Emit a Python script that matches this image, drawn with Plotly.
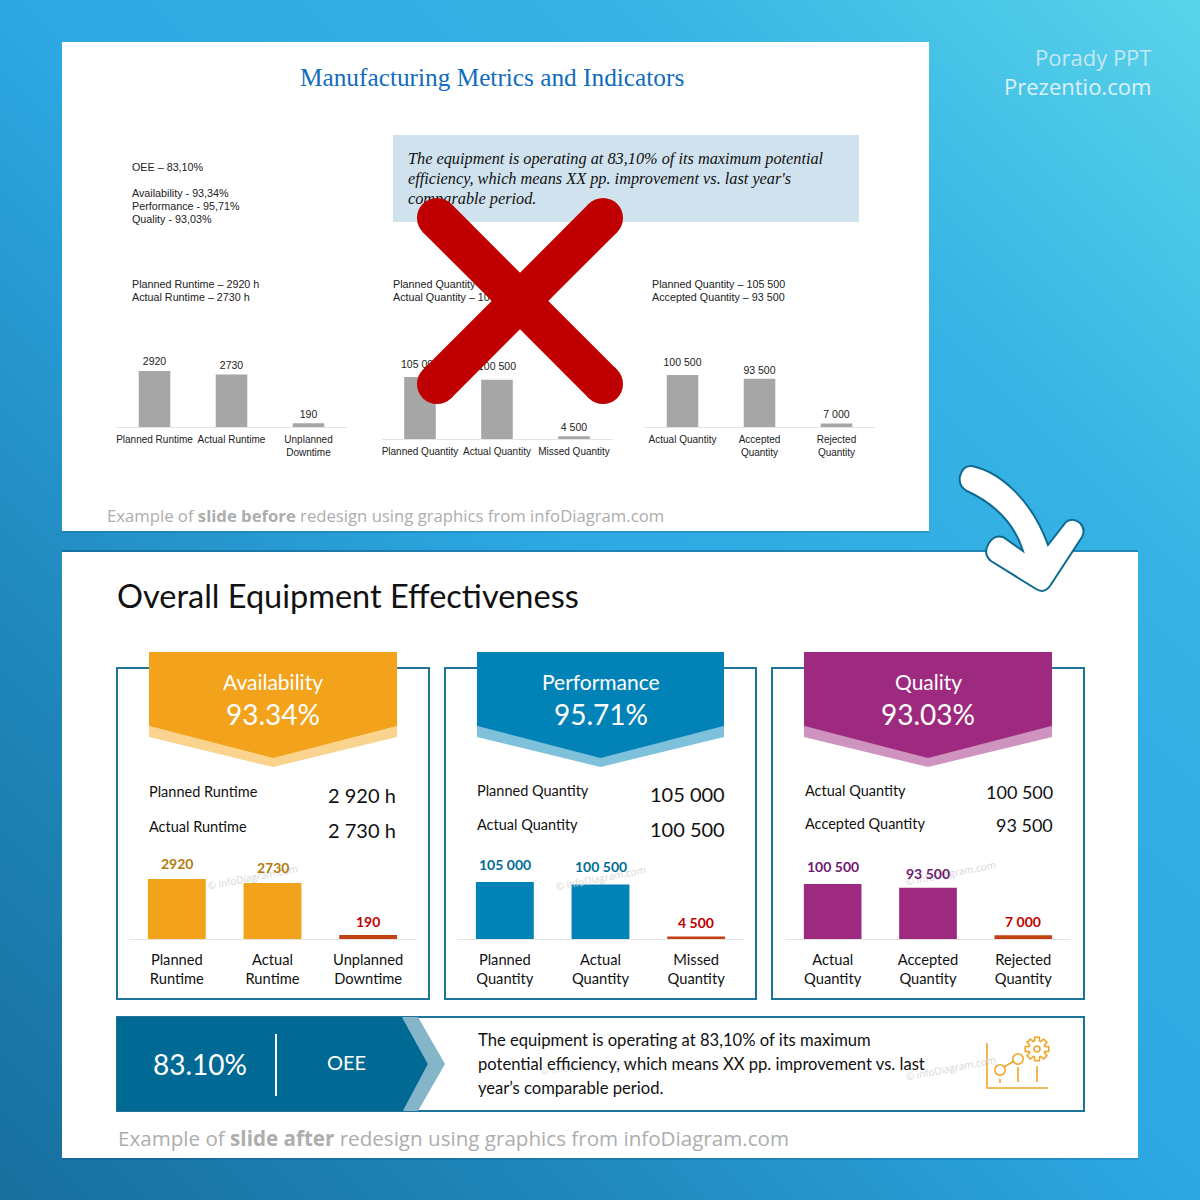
import base64
import numpy as np
import plotly.graph_objects as go

# ---- before slide data ----
before_runtime_labels = ["Planned Runtime", "Actual Runtime", "Unplanned<br>Downtime"]
before_runtime_values = [2920, 2730, 190]
before_runtime_text = ["2920", "2730", "190"]
before_perf_labels = ["Planned Quantity", "Actual Quantity", "Missed Quantity"]
before_perf_values = [105000, 100500, 4500]
before_perf_text = ["105 000", "100 500", "4 500"]
before_quality_labels = ["Actual Quantity", "Accepted<br>Quantity", "Rejected<br>Quantity"]
before_quality_values = [100500, 93500, 7000]
before_quality_text = ["100 500", "93 500", "7 000"]

# ---- after slide data ----
after_runtime_labels = ["Planned<br>Runtime", "Actual<br>Runtime", "Unplanned<br>Downtime"]
after_perf_labels = ["Planned<br>Quantity", "Actual<br>Quantity", "Missed<br>Quantity"]
after_quality_labels = ["Actual<br>Quantity", "Accepted<br>Quantity", "Rejected<br>Quantity"]
kpi_names = ["Availability", "Performance", "Quality"]
kpi_values = ["93.34%", "95.71%", "93.03%"]

CAL = "Lato"
ARIAL = "Liberation Sans"
SERIF = "Liberation Serif"
GREY_TXT = "#adadad"
TEAL = "#1f7597"
DARK = "#006a94"


def px(x):
    return x / 1200


def py(y):
    return 1 - y / 1200


fig = go.Figure()
shapes, notes = [], []


def rect(x0, y0, x1, y1, fill, line=None, width=0, layer="below"):
    shapes.append(dict(type="rect", xref="paper", yref="paper", x0=px(x0), x1=px(x1),
                       y0=py(y0), y1=py(y1), fillcolor=fill, layer=layer,
                       line=dict(color=line or "rgba(0,0,0,0)", width=width)))


def poly(points, fill, layer="below"):
    d = "M " + " L ".join(f"{px(a):.5f},{py(b):.5f}" for a, b in points) + " Z"
    shapes.append(dict(type="path", xref="paper", yref="paper", path=d, fillcolor=fill,
                       layer=layer, line=dict(width=0)))


def stroke(points, color, width, closed=False, layer="below"):
    d = "M " + " L ".join(f"{px(a):.5f},{py(b):.5f}" for a, b in points) + (" Z" if closed else "")
    shapes.append(dict(type="path", xref="paper", yref="paper", path=d,
                       line=dict(color=color, width=width), layer=layer))


def circle(cx, cy, r, fill, line=None, width=0, layer="below"):
    shapes.append(dict(type="circle", xref="paper", yref="paper", x0=px(cx - r), x1=px(cx + r),
                       y0=py(cy + r), y1=py(cy - r), fillcolor=fill, layer=layer,
                       line=dict(color=line or "rgba(0,0,0,0)", width=width)))


def note(x, y, text, size, color="#000000", family=CAL, anchor="left", angle=0):
    # Annotation boxes carry a small inner padding, offset here
    dx = {"left": -2, "right": 2, "center": 0}[anchor]
    notes.append(dict(xref="paper", yref="paper", x=px(x + dx), y=py(y - 1), text=text, showarrow=False,
                      xanchor=anchor, yanchor="middle", textangle=angle,
                      font=dict(size=size, color=color, family=family)))


def low_text(x, y, text, size, color="#000000", family=ARIAL):
    # Text kept in the trace layer so the cross drawn above can cover it
    fig.add_trace(go.Scatter(x=[x], y=[y + 1], text=[text], mode="text", textposition="middle right",
                             textfont=dict(size=size, color=color, family=family),
                             xaxis="x", yaxis="y", showlegend=False, hoverinfo="skip",
                             cliponaxis=False))


# ---- page background ----
gradient_svg = (
    '<svg xmlns="http://www.w3.org/2000/svg" width="1200" height="1200" preserveAspectRatio="none">'
    '<defs><linearGradient id="g" x1="0" y1="1" x2="1" y2="0">'
    '<stop offset="0" stop-color="#176f9e"/><stop offset="0.25" stop-color="#2088bc"/>'
    '<stop offset="0.5" stop-color="#2da8e2"/><stop offset="0.75" stop-color="#36b2e4"/>'
    '<stop offset="1" stop-color="#58d4ea"/></linearGradient></defs>'
    '<rect width="1200" height="1200" fill="url(#g)"/></svg>'
)
bg_uri = "data:image/svg+xml;base64," + base64.b64encode(gradient_svg.encode()).decode()

# ---- slide panels ----
rect(62, 531, 929, 533, "rgba(0,60,100,0.18)")
rect(62, 550, 1138, 552, "rgba(0,60,100,0.35)")
rect(62, 1158, 1138, 1160, "rgba(0,60,100,0.18)")
rect(62, 42, 929, 531, "#ffffff")
rect(62, 552, 1138, 1158, "#ffffff")

note(1151, 58, "Porady PPT", 22, "#c4e7f3", "Open Sans", "right")
note(1151, 87, "Prezentio.com", 22, "#dff1f8", "Open Sans", "right")

# ---- before slide text ----
note(492, 78, "Manufacturing Metrics and Indicators", 25.3, "#126cbd", SERIF, "center")
rect(393, 135, 859, 222, "#cfe2ee")
for y, line in zip([159, 179, 199], [
    "The equipment is operating at 83,10% of its maximum potential",
    "efficiency, which means XX pp. improvement vs. last year's",
    "comparable period.",
]):
    low_text(408, y, f"<i>{line}</i>", 16.3, "#111111", SERIF)
for y, line in zip([167, 193, 206, 219],
                   ["OEE – 83,10%", "Availability - 93,34%", "Performance - 95,71%", "Quality - 93,03%"]):
    low_text(132, y, line, 10.75, "#222222")
low_text(132, 284, "Planned Runtime – 2920 h", 10.75, "#222222")
low_text(132, 297, "Actual Runtime – 2730 h", 10.75, "#222222")
low_text(393, 284, "Planned Quantity – 105 000", 10.75, "#222222")
low_text(393, 297, "Actual Quantity – 100 500", 10.75, "#222222")
low_text(652, 284, "Planned Quantity – 105 500", 10.75, "#222222")
low_text(652, 297, "Accepted Quantity – 93 500", 10.75, "#222222")
note(107, 516, "Example of <b>slide before</b> redesign using graphics from infoDiagram.com",
     16.7, GREY_TXT, "Open Sans")

# ---- after slide text and frames ----
note(117, 596, "Overall Equipment Effectiveness", 32.5, "#111111")
note(118, 1139, "Example of <b>slide after</b> redesign using graphics from infoDiagram.com",
     20.6, GREY_TXT, "Open Sans")

frames = [(117, 429), (445, 756), (772, 1084)]
ribbons = [(149, 397, "#f2a31b", "#fad48e"), (477, 724, "#0283b7", "#7fc1db"), (804, 1052, "#9e2a80", "#ce93bf")]
for (fx0, fx1), (rx0, rx1, main, light), name, val in zip(frames, ribbons, kpi_names, kpi_values):
    rect(fx0, 668, fx1, 999, "#ffffff", TEAL, 2)
    mid = (rx0 + rx1) / 2
    poly([(rx0, 726), (mid, 757), (rx1, 726), (rx1, 737), (mid, 767), (rx0, 737)], light)
    poly([(rx0, 652), (rx1, 652), (rx1, 726), (mid, 758), (rx0, 726)], main)
    note(mid, 682, name, 21, "#ffffff", CAL, "center")
    note(mid, 715, val, 28, "#ffffff", CAL, "center")

# Metric rows beside each chart: left x, right x, label y, value y, value size
rows = [
    (149, 396, [792, 827], [796, 831], 20, ["Planned Runtime", "Actual Runtime"], ["2 920 h", "2 730 h"]),
    (477, 725, [791, 825], [795, 830], 20, ["Planned Quantity", "Actual Quantity"], ["105 000", "100 500"]),
    (805, 1053, [791, 824], [793, 826], 18, ["Actual Quantity", "Accepted Quantity"], ["100 500", "93 500"]),
]
for lx, rx, ly, vy, vs, labs, vals in rows:
    for a, b, lab, val in zip(ly, vy, labs, vals):
        note(lx, a, lab, 14.5, "#111111")
        note(rx, b, val, vs, "#111111", CAL, "right")

# Watermarks
for x, y in [(252, 878), (600, 879), (950, 874), (950, 1069)]:
    note(x, y, "© infoDiagram.com", 10, "#d6d6d6", "Open Sans", "center", -11)
note(585, 1067, "© infoDiagram.com", 10, "#e2e2e2", "Open Sans", "center", -6)

# ---- OEE banner ----
rect(117, 1017, 1084, 1111, "#ffffff", TEAL, 2)
poly([(402, 1017), (418, 1017), (445, 1064), (418, 1111), (403, 1111), (428, 1064)], "#85b5c9")
poly([(117, 1017), (402, 1017), (428, 1064), (403, 1111), (117, 1111)], DARK)
stroke([(276, 1034), (276, 1096)], "#ffffff", 2)
note(200, 1065, "83.10%", 28, "#ffffff", CAL, "center")
note(346, 1063, "OEE", 20, "#ffffff", CAL, "center")
for y, line in zip([1041, 1065, 1089], [
    "The equipment is operating at 83,10% of its maximum",
    "potential efficiency, which means XX pp. improvement vs. last",
    "year’s comparable period.",
]):
    note(478, y, line, 16.6, "#111111")

# ---- small chart-and-gear icon ----
ICON = "#f0a52a"
stroke([(987, 1043), (987, 1088), (1048, 1088)], ICON, 1.6)
stroke([(1004, 1067), (1014, 1061)], ICON, 1.6)
circle(1000, 1070, 5.2, "rgba(0,0,0,0)", ICON, 1.6)
circle(1018, 1059, 5.2, "rgba(0,0,0,0)", ICON, 1.6)
for x, y0, y1 in [(1000, 1079, 1083), (1018, 1067, 1082), (1037, 1066, 1082)]:
    stroke([(x, y0), (x, y1)], ICON, 1.6)
circle(1037, 1049, 3, "rgba(0,0,0,0)", ICON, 1.6)
gear = []
for k in range(8):
    base = k * np.pi / 4
    for off, rad in [(-0.32, 8.2), (-0.2, 12), (0.2, 12), (0.32, 8.2)]:
        gear.append((1037 + rad * np.cos(base + off), 1049 + rad * np.sin(base + off)))
stroke(gear, ICON, 1.6, closed=True)

# ---- bar charts ----
charts = [
    # labels, values, text, x domain, baseline, axis top, value units per pixel
    (before_runtime_labels, before_runtime_values, before_runtime_text, (116, 347), 427, 340, 52.1),
    (before_perf_labels, before_perf_values, before_perf_text, (381.5, 612.5), 439, 350, 1693),
    (before_quality_labels, before_quality_values, before_quality_text, (644, 875), 427, 340, 1934),
    (after_runtime_labels, before_runtime_values, before_runtime_text, (129, 416), 939, 850, 48.7),
    (after_perf_labels, before_perf_values, before_perf_text, (457, 744), 939, 850, 1842),
    (after_quality_labels, before_quality_values, before_quality_text, (785, 1071), 939, 850, 1827),
]
main_colors = ["#a6a6a6"] * 3 + ["#f2a31b", "#0283b7", "#9e2a80"]
value_colors = [None, None, None, "#b5790f", "#006d94", "#701a70"]
# Distance between each bar top and its value label, in pixels
value_gaps = [[9, 8, 8], [12, 12, 8], [12, 7, 8], [5, 5, 3], [7, 7, 4], [7, 4, 3]]

axes = {}
for i, ((labels, values, texts, (dx0, dx1), base, top, scale), col) in enumerate(zip(charts, main_colors)):
    n = i + 2
    before = i < 3
    fig.add_trace(go.Bar(
        x=labels, y=values, width=0.41 if before else 0.605,
        xaxis=f"x{n}", yaxis=f"y{n}", showlegend=False, hoverinfo="skip",
        marker=dict(color=[col, col, col if before else "#c1410f"], line=dict(width=0)),
        cliponaxis=False,
    ))
    axes[f"xaxis{n}"] = dict(
        domain=[px(dx0), px(dx1)], anchor=f"y{n}", type="category", categoryorder="array",
        categoryarray=labels, range=[-0.5, 2.5], showgrid=False, zeroline=False,
        showline=True, linecolor="#e3e3e3", linewidth=1, ticks="outside",
        ticklen=3 if before else 7, tickcolor="rgba(0,0,0,0)", tickangle=0,
        tickfont=dict(size=10 if before else 14.7, color="#222222" if before else "#111111",
                      family=ARIAL if before else CAL),
    )
    axes[f"yaxis{n}"] = dict(domain=[py(base), py(top)], anchor=f"x{n}",
                             range=[0, (base - top) * scale], visible=False, fixedrange=True)
    if before:
        # Value labels stay in the trace layer, beneath the cross
        fig.add_trace(go.Scatter(
            x=labels, y=[v + g * scale for v, g in zip(values, value_gaps[i])], text=texts,
            mode="text", textposition="middle center", xaxis=f"x{n}", yaxis=f"y{n}",
            textfont=dict(size=10.5, color="#222222", family=ARIAL),
            showlegend=False, hoverinfo="skip", cliponaxis=False,
        ))
    else:
        for j, (lab, v, t) in enumerate(zip(labels, values, texts)):
            notes.append(dict(xref=f"x{n}", yref=f"y{n}", x=lab, y=v, text=f"<b>{t}</b>",
                              showarrow=False, yanchor="bottom", yshift=value_gaps[i][j],
                              font=dict(size=14, family=CAL,
                                        color="#c00000" if j == 2 else value_colors[i])))

# Page-wide axes carrying the under-layer text
axes["xaxis"] = dict(domain=[0, 1], range=[0, 1200], visible=False, fixedrange=True)
axes["yaxis"] = dict(domain=[0, 1], range=[1200, 0], visible=False, fixedrange=True)

# ---- red cross over the before slide ----
RED = "#c00000"
ENDS = [(437, 218), (603, 384), (603, 218), (437, 384)]
stroke(ENDS[:2], RED, 40, layer="above")
stroke(ENDS[2:], RED, 40, layer="above")
for ex, ey in ENDS:
    circle(ex, ey, 20, RED, layer="above")

# ---- curved arrow between the slides ----
pts = [
    ("M", 972, 466), ("C", 1000, 472, 1032, 500, 1048, 545), ("L", 1066, 522),
    ("Q", 1073, 517, 1080, 523), ("Q", 1086, 529, 1082, 537), ("L", 1050, 586),
    ("Q", 1044, 594, 1036, 589), ("L", 991, 561), ("Q", 984, 555, 987, 547),
    ("Q", 992, 534, 1003, 537), ("L", 1023, 551), ("C", 1015, 525, 997, 505, 967, 491),
    ("Q", 958, 486, 960, 476), ("Q", 963, 465, 972, 466),
]
arrow = ""
for cmd, *nums in pts:
    pairs = [f"{px(nums[k]):.5f},{py(nums[k + 1]):.5f}" for k in range(0, len(nums), 2)]
    arrow += f"{cmd} {' '.join(pairs)} "
shapes.append(dict(type="path", xref="paper", yref="paper", path=arrow + "Z", fillcolor="#ffffff",
                   line=dict(color="#0e6a8f", width=2), layer="above"))

fig.update_layout(
    width=1200, height=1200, margin=dict(l=0, r=0, t=0, b=0, pad=0),
    paper_bgcolor="#2da8e2", plot_bgcolor="rgba(0,0,0,0)", showlegend=False,
    images=[dict(source=bg_uri, xref="paper", yref="paper", x=0, y=1, sizex=1, sizey=1,
                 xanchor="left", yanchor="top", sizing="stretch", layer="below")],
    shapes=shapes, annotations=notes, **axes,
)
fig.write_html("out.html", config={"displayModeBar": False})
